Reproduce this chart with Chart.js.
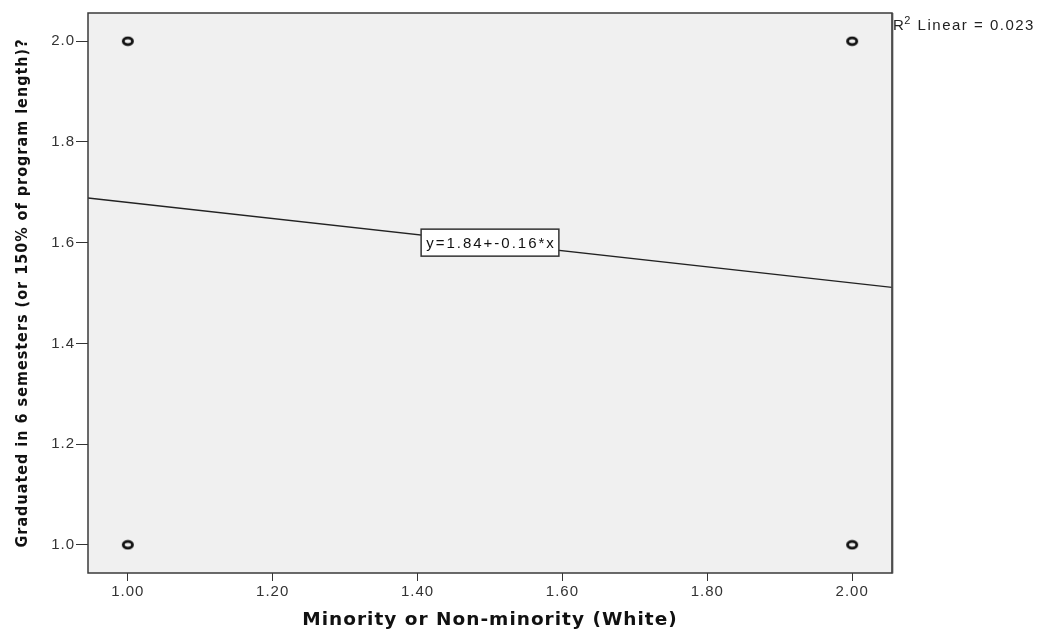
<!DOCTYPE html>
<html>
<head>
<meta charset="utf-8">
<script src="https://cdn.jsdelivr.net/npm/chart.js@4/dist/chart.umd.min.js"></script>
<style>
  html, body { margin: 0; padding: 0; background: #fff; }
  #wrap { width: 1038px; height: 632px; }
</style>
</head>
<body>
<div id="wrap"><canvas id="scatterChart"></canvas></div>
<script>
// Observed (group, graduated) pairs - values overlap, so only four marks show
const minorityGroup = [1, 1, 2, 2];
const graduatedCode = [1, 2, 1, 2];

// Axis ticks and ranges
const xTicks = [1.0, 1.2, 1.4, 1.6, 1.8, 2.0];
const yTicks = [1.0, 1.2, 1.4, 1.6, 1.8, 2.0];
const xRange = [0.945, 2.055];
const yRange = [0.944, 2.056];

// Linear fit
const fitIntercept = 1.84;
const fitSlope = -0.16;
const rSquared = 0.023;

const fitAt = x => fitIntercept + fitSlope * x;

const points = minorityGroup.map((x, i) => ({ x: x, y: graduatedCode[i] }));
const fitLine = xRange.map(x => ({ x: x, y: fitAt(x) }));

const TICK_FONT = { family: 'Liberation Sans, Arial, sans-serif', size: 15 };
const SANS = 'Liberation Sans, Arial, sans-serif';

// Hollow, slightly flattened ring used as the point marker
function ringMarker() {
    const c = document.createElement('canvas');
    c.width = 14;
    c.height = 11;
    const g = c.getContext('2d');
    g.strokeStyle = '#111';
    g.lineWidth = 2.8;
    g.beginPath();
    g.ellipse(7, 5.5, 4.6, 3.4, 0, 0, Math.PI * 2);
    g.stroke();
    return c;
}

// Grey plot background, frame, fit equation and R² note
const plotDecor = {
    id: 'plotDecor',
    beforeDraw(chart) {
        const { ctx, chartArea: a } = chart;
        ctx.save();
        ctx.fillStyle = '#f0f0f0';
        ctx.fillRect(a.left, a.top, a.right - a.left, a.bottom - a.top);
        ctx.restore();
        // wide glyph spacing for all axis text
        ctx.letterSpacing = '1px';
    },
    afterDatasetsDraw(chart) {
        const { ctx, chartArea: a, scales } = chart;
        ctx.save();

        // frame
        ctx.strokeStyle = '#8a8a8a';
        ctx.lineWidth = 2;
        ctx.beginPath();
        ctx.moveTo(a.right + 0.5, a.top);
        ctx.lineTo(a.right + 0.5, a.bottom + 0.5);
        ctx.stroke();
        ctx.strokeStyle = '#3a3a3a';
        ctx.lineWidth = 1.5;
        ctx.strokeRect(a.left, a.top, a.right - a.left, a.bottom - a.top);

        // equation label at the middle of the x range
        const midX = (xRange[0] + xRange[1]) / 2;
        const px = scales.x.getPixelForValue(midX);
        const py = scales.y.getPixelForValue(fitAt(midX));
        const label = `y=${fitIntercept}+${fitSlope}*x`;
        ctx.letterSpacing = '2px';
        ctx.font = '15px ' + SANS;
        const w = ctx.measureText(label).width + 8;
        const h = 27;
        ctx.fillStyle = '#ffffff';
        ctx.fillRect(px - w / 2, py - h / 2, w, h);
        ctx.strokeStyle = '#333';
        ctx.lineWidth = 1.5;
        ctx.strokeRect(px - w / 2, py - h / 2, w, h);
        ctx.fillStyle = '#111';
        ctx.textAlign = 'center';
        ctx.textBaseline = 'middle';
        ctx.fillText(label, px + 1, py + 1);

        // R² note outside the top-right corner
        let tx = a.right + 1;
        const ty = a.top + 17;
        ctx.letterSpacing = '1.5px';
        ctx.textAlign = 'left';
        ctx.textBaseline = 'alphabetic';
        ctx.fillStyle = '#222';
        ctx.font = '15px ' + SANS;
        ctx.fillText('R', tx, ty);
        tx += ctx.measureText('R').width - 1;
        ctx.font = '11px ' + SANS;
        ctx.fillText('2', tx, ty - 6);
        tx += ctx.measureText('2').width;
        ctx.font = '15px ' + SANS;
        ctx.fillText(' Linear = ' + rSquared.toFixed(3), tx, ty);

        ctx.restore();
    },
    afterDraw(chart) {
        chart.ctx.letterSpacing = '0px';
    }
};

const ctx = document.getElementById('scatterChart').getContext('2d');
new Chart(ctx, {
    type: 'scatter',
    data: {
        datasets: [
            {
                type: 'line',
                data: fitLine,
                borderColor: '#222',
                borderWidth: 1.4,
                pointRadius: 0,
                fill: false,
                order: 2
            },
            {
                data: points,
                pointStyle: ringMarker(),
                pointRadius: 5,
                order: 1
            }
        ]
    },
    options: {
        responsive: true,
        maintainAspectRatio: false,
        animation: false,
        events: [],
        layout: { padding: { top: 13, right: 146, left: 0, bottom: 0 } },
        plugins: {
            legend: { display: false },
            tooltip: { enabled: false }
        },
        scales: {
            x: {
                type: 'linear',
                min: xRange[0],
                max: xRange[1],
                afterBuildTicks: scale => { scale.ticks = xTicks.map(v => ({ value: v })); },
                afterFit: scale => { scale.height = 59; },
                border: { display: false },
                grid: { drawOnChartArea: false, drawTicks: true, tickLength: 8, color: '#333', tickColor: '#333' },
                ticks: {
                    padding: 2,
                    color: '#333',
                    font: TICK_FONT,
                    maxRotation: 0,
                    callback: v => Number(v).toFixed(2)
                },
                title: {
                    display: true,
                    text: 'Minority or Non-minority (White)',
                    color: '#111',
                    font: { family: 'DejaVu Sans, Verdana, sans-serif', size: 18.5, weight: 'bold' },
                    padding: { top: 0, bottom: 1 }
                }
            },
            y: {
                type: 'linear',
                min: yRange[0],
                max: yRange[1],
                afterBuildTicks: scale => { scale.ticks = yTicks.map(v => ({ value: v })); },
                afterFit: scale => { scale.width = 88; },
                border: { display: false },
                grid: { drawOnChartArea: false, drawTicks: true, tickLength: 12, color: '#333', tickColor: '#333' },
                ticks: {
                    padding: 1,
                    color: '#333',
                    font: TICK_FONT,
                    callback: v => Number(v).toFixed(1)
                },
                title: {
                    display: true,
                    text: 'Graduated in 6 semesters (or 150% of program length)?',
                    color: '#111',
                    font: { family: 'DejaVu Sans Condensed, Liberation Sans Narrow, Arial Narrow, sans-serif', size: 16, weight: 'bold' },
                    padding: { top: 13, bottom: 0 }
                }
            }
        }
    },
    plugins: [plotDecor]
});
</script>
</body>
</html>
